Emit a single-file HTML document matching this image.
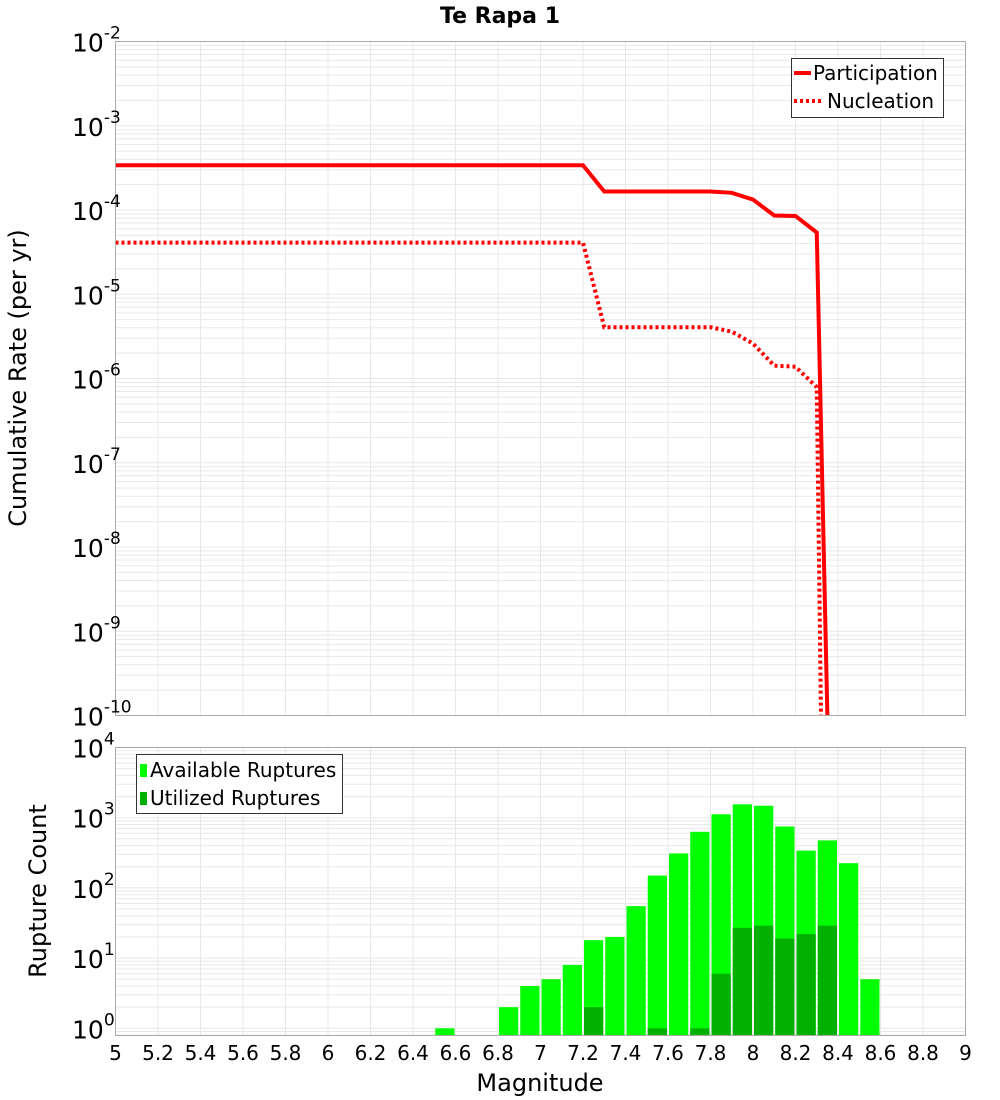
<!DOCTYPE html>
<html><head><meta charset="utf-8"><style>
body{margin:0;background:#fff;}
svg{display:block;font-family:"DejaVu Sans","Liberation Sans",sans-serif;}
</style></head><body>
<svg id="c" width="1000" height="1100" viewBox="0 0 1000 1100" xmlns="http://www.w3.org/2000/svg"></svg>
<script>
const partMags=[5.0,7.2,7.3,7.8,7.9,8.0,8.1,8.2,8.3,8.35];
const partRates=[3.4e-4,3.4e-4,1.66e-4,1.66e-4,1.6e-4,1.33e-4,8.6e-5,8.5e-5,5.4e-5,1e-10];
const nuclMags=[5.0,7.2,7.3,7.8,7.9,8.0,8.1,8.2,8.3,8.32];
const nuclRates=[4.1e-5,4.1e-5,4.06e-6,4.06e-6,3.6e-6,2.6e-6,1.42e-6,1.38e-6,7.9e-7,1e-10];
const binMags=[6.55,6.85,6.95,7.05,7.15,7.25,7.35,7.45,7.55,7.65,7.75,7.85,7.95,8.05,8.15,8.25,8.35,8.45,8.55];
const availCounts=[1,2,4,5,8,18,20,55,150,310,630,1120,1550,1480,750,340,475,225,5];
const usedCounts=[0,0,0,0,0,2,0,0,1,0,1,6,27,29,19,22,29,0,0];
const xTicks=[5,5.2,5.4,5.6,5.8,6,6.2,6.4,6.6,6.8,7,7.2,7.4,7.6,7.8,8,8.2,8.4,8.6,8.8,9];
const topExps=[-2,-3,-4,-5,-6,-7,-8,-9,-10];
const botExps=[0,1,2,3,4];

const NS="http://www.w3.org/2000/svg";
const svg=document.getElementById('c');
function mk(tag,attrs,parent){const e=document.createElementNS(NS,tag);for(const k in attrs)e.setAttribute(k,attrs[k]);(parent||svg).appendChild(e);return e;}
const L=115.5,R=965.5;
const X=m=>L+(m-5)/4*(R-L);
const T0=41.5,T1=715.5;
const Yt=v=>T0+(-2-Math.log10(v))/8*(T1-T0);
const B0=747.5,B1=1035.5,BD=70.2;
const Yb=v=>B0+(4-Math.log10(v))*BD;

let t=mk('text',{x:500,y:23,'text-anchor':'middle','font-size':22,'font-weight':'bold'});t.textContent='Te Rapa 1';


function grid(y0,y1,exps,Yf,name){
  const g=mk('g',{});
  mk('rect',{x:L,y:y0,width:R-L,height:y1-y0,fill:'#fff'},g);
  xTicks.forEach(m=>mk('line',{x1:X(m),x2:X(m),y1:y0,y2:y1,stroke:'#e8e8e8','stroke-width':1},g));
  const lo=Math.min(...exps)-1,hi=Math.max(...exps);
  for(let e=lo;e<=hi;e++)for(let k=1;k<10;k++){const y=Yf(k*Math.pow(10,e));if(y>=y0&&y<=y1)mk('line',{x1:L,x2:R,y1:y,y2:y,stroke:'#e8e8e8','stroke-width':1},g);}
  return g;
}
grid(T0,T1,topExps,Yt,'top-grid');
grid(B0,B1,botExps,Yb,'bottom-grid');

const clip=mk('clipPath',{id:'tc'});mk('rect',{x:L,y:T0,width:R-L,height:T1-T0},clip);
function line(ms,vs,dash,name){const p=mk('polyline',{points:ms.map((m,i)=>X(m)+','+Yt(vs[i])).join(' '),fill:'none',stroke:'#ff0000','stroke-width':4,'clip-path':'url(#tc)'});
 if(dash)p.setAttribute('stroke-dasharray','3,3');}
line(partMags,partRates,false,'participation-line');
line(nuclMags,nuclRates,true,'nucleation-line');

const bw=(X(5.1)-X(5));
binMags.forEach((m,i)=>{
  const v=availCounts[i];if(v>0){const y=Yb(v);const r=mk('rect',{x:X(m)-bw/2+1,y:y,width:bw-2,height:B1-y,fill:'#00ff00'});
  }
  const u=usedCounts[i];if(u>0){const y=Yb(u);const r=mk('rect',{x:X(m)-bw/2+1,y:y,width:bw-2,height:B1-y,fill:'#00b000'});
  }
});

mk('rect',{x:L,y:T0,width:R-L,height:T1-T0,fill:'none',stroke:'#aaa'});
mk('rect',{x:L,y:B0,width:R-L,height:B1-B0,fill:'none',stroke:'#aaa'});

function ylab(exps,Yf,name){exps.forEach(e=>{const y=Yf(Math.pow(10,e));
 const tx=mk('text',{x:72,y:y+10,'text-anchor':'start','font-size':25});
 const a=document.createElementNS(NS,'tspan');a.textContent='10';tx.appendChild(a);
 const b=document.createElementNS(NS,'tspan');b.setAttribute('dy','-13');b.setAttribute('font-size','17');b.textContent=String(e);tx.appendChild(b);
 });}
ylab(topExps,Yt,'top-y-tick');
ylab(botExps,Yb,'bottom-y-tick');

xTicks.forEach(m=>{const tx=mk('text',{x:X(m),y:1060,'text-anchor':'middle','font-size':20});tx.textContent=String(m);
 });

t=mk('text',{x:540,y:1091,'text-anchor':'middle','font-size':24});t.textContent='Magnitude';

t=mk('text',{x:0,y:0,'text-anchor':'middle','font-size':24,transform:'translate(26,378) rotate(-90)'});t.textContent='Cumulative Rate (per yr)';

t=mk('text',{x:0,y:0,'text-anchor':'middle','font-size':24,transform:'translate(46,891) rotate(-90)'});t.textContent='Rupture Count';


let lg=mk('g',{});
mk('rect',{x:791.5,y:58.5,width:152,height:59,fill:'#fff',stroke:'#333'},lg);
mk('line',{x1:794,x2:811,y1:73,y2:73,stroke:'#f00','stroke-width':4},lg);
mk('line',{x1:794,x2:822,y1:101,y2:101,stroke:'#f00','stroke-width':4,'stroke-dasharray':'3,3'},lg);
t=mk('text',{x:813,y:80,'font-size':20},lg);t.textContent='Participation';
t=mk('text',{x:827,y:108,'font-size':20},lg);t.textContent='Nucleation';

lg=mk('g',{});
mk('rect',{x:136.5,y:754.5,width:206,height:59,fill:'#fff',stroke:'#333'},lg);
mk('rect',{x:140,y:764,width:7,height:13,fill:'#00ff00'},lg);
mk('rect',{x:140,y:792,width:7,height:13,fill:'#00b000'},lg);
t=mk('text',{x:150,y:777,'font-size':20},lg);t.textContent='Available Ruptures';
t=mk('text',{x:150,y:805,'font-size':20},lg);t.textContent='Utilized Ruptures';
</script>
</body></html>
